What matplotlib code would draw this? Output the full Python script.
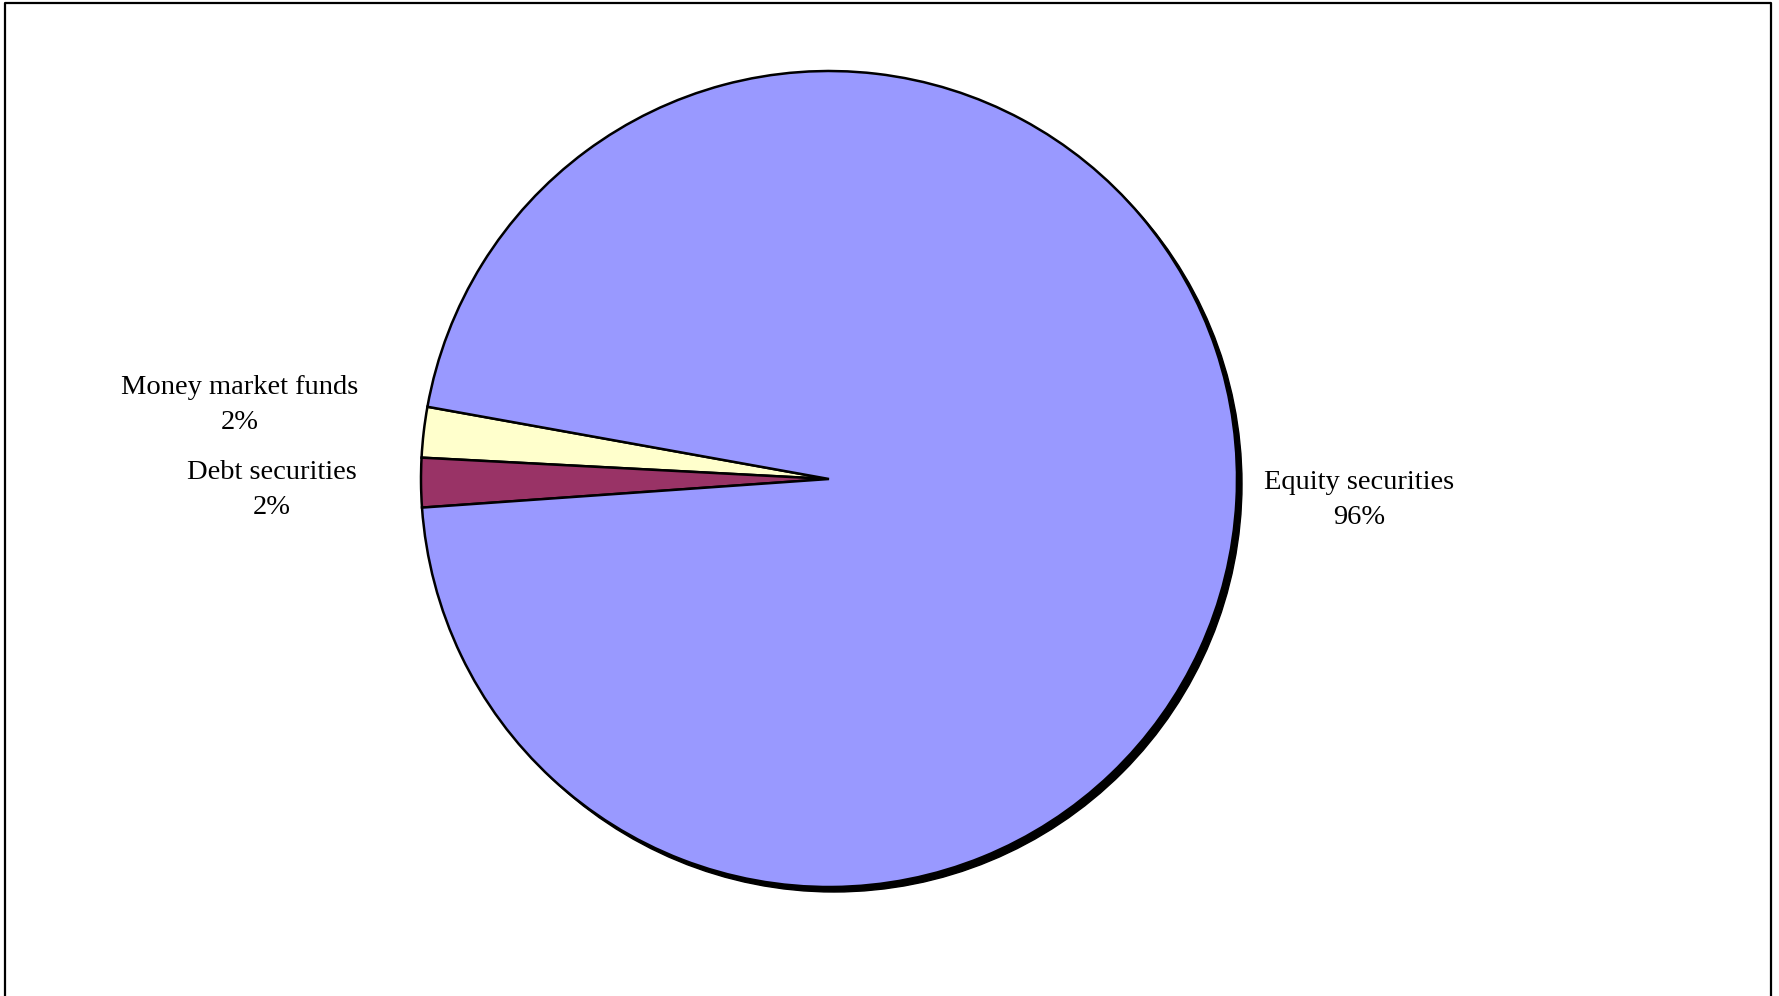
import matplotlib.pyplot as plt
from matplotlib.patches import Circle

# data
labels = ["Money market funds", "Debt securities", "Equity securities"]
shares = [2.0, 1.95, 96.05]
pct_text = ["2%", "2%", "96%"]
colors = ["#FFFFCC", "#993366", "#9999FF"]

W, H = 1779, 996
fig = plt.figure(figsize=(W / 100, H / 100), dpi=100)
ax = fig.add_axes([0, 0, 1, 1])

cx, cy, r = 829, H - 479, 408

# drop shadow
ax.add_patch(Circle((cx + 5, cy - 5), r, color="black", zorder=1))

ax.pie(shares, colors=colors, startangle=169.8, counterclock=True,
       center=(cx, cy), radius=r, frame=True,
       wedgeprops=dict(edgecolor="black", linewidth=1.8, zorder=2))
ax.set_xlim(0, W)
ax.set_ylim(0, H)
ax.axis("off")

label_pos = [(240, H - 405), (272, H - 490), (1359, H - 500)]
for name, pct, (x, y) in zip(labels, pct_text, label_pos):
    ax.text(x, y, f"{name}\n{pct}", ha="center", va="center",
            fontsize=20.5, family="Liberation Serif", linespacing=1.5)

# chart border
ax.plot([4.5, 4.5, 1770.5, 1770.5], [0, H - 2.5, H - 2.5, 0],
        color="black", linewidth=1.6, clip_on=False)

fig.savefig("out.png", dpi=100, facecolor="white")
